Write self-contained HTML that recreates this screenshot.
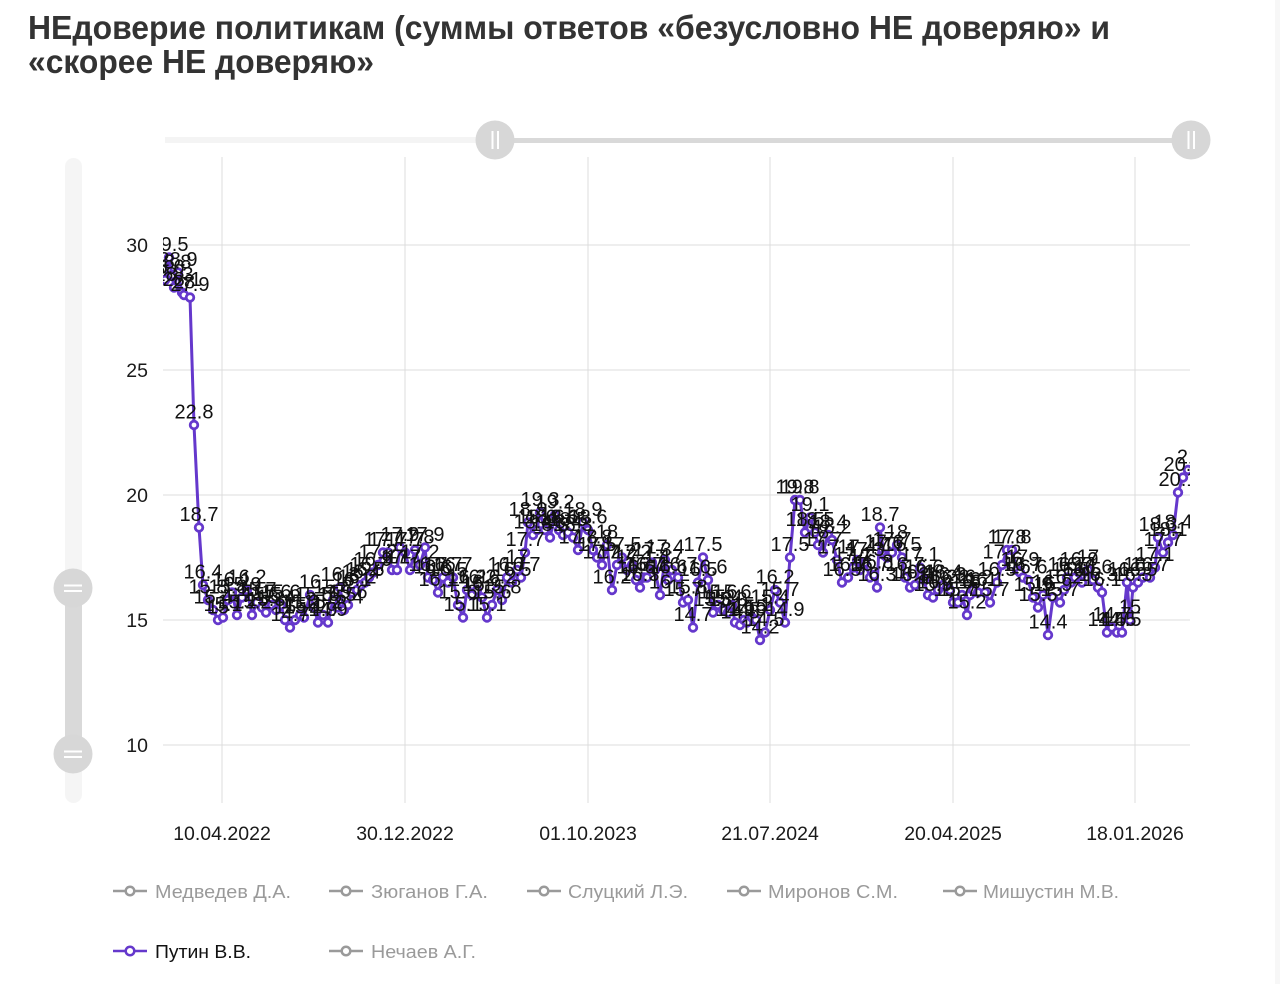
<!DOCTYPE html>
<html><head><meta charset="utf-8"><style>
html,body{margin:0;padding:0;background:#fff;}
svg{display:block;}
.dl{font-family:"Liberation Sans","DejaVu Sans",sans-serif;font-size:20px;fill:#111;text-anchor:middle;}
.ax{font-family:"Liberation Sans","DejaVu Sans",sans-serif;font-size:19.5px;fill:#1a1a1a;}
.lg{font-family:"Liberation Sans","DejaVu Sans",sans-serif;font-size:18.5px;fill:#9a9a9a;}
</style></head><body>
<svg width="1280" height="984" viewBox="0 0 1280 984" xmlns="http://www.w3.org/2000/svg">
<defs>
<marker id="m" markerWidth="14" markerHeight="14" refX="7" refY="7" markerUnits="userSpaceOnUse"><circle cx="7" cy="7" r="3.8" fill="#fff" stroke="#6538cc" stroke-width="2.8"/></marker>
<clipPath id="pc"><rect x="163" y="150" width="1027" height="660"/></clipPath>
</defs>
<rect x="1275" y="0" width="5" height="984" fill="#f7f7f7"/>
<!-- title -->
<text x="28" y="39" font-family="Liberation Sans, DejaVu Sans, sans-serif" font-weight="bold" font-size="33" fill="#333" textLength="1082" lengthAdjust="spacingAndGlyphs">НЕдоверие политикам (суммы ответов «безусловно НЕ доверяю» и</text>
<text x="28" y="73" font-family="Liberation Sans, DejaVu Sans, sans-serif" font-weight="bold" font-size="33" fill="#333" textLength="346" lengthAdjust="spacingAndGlyphs">«скорее НЕ доверяю»</text>
<!-- top slider -->
<rect x="165" y="137" width="330" height="6" fill="#f4f4f4"/>
<rect x="496" y="138" width="695" height="5" fill="#d9d9d9"/>
<circle cx="495" cy="140" r="19.5" fill="#d7d7d7"/>
<rect x="491.5" y="131" width="2" height="18" fill="#fff"/><rect x="497" y="131" width="2" height="18" fill="#fff"/>
<circle cx="1191" cy="140" r="19.5" fill="#d7d7d7"/>
<rect x="1187.5" y="131" width="2" height="18" fill="#fff"/><rect x="1193" y="131" width="2" height="18" fill="#fff"/>
<!-- left slider -->
<rect x="65" y="158" width="17" height="645" rx="8.5" fill="#f5f5f5"/>
<rect x="65" y="588" width="17" height="166" fill="#d9d9d9"/>
<circle cx="73" cy="588" r="19.5" fill="#d7d7d7"/>
<rect x="64" y="584.5" width="18" height="2" fill="#fff"/><rect x="64" y="590" width="18" height="2" fill="#fff"/>
<circle cx="73" cy="754" r="19.5" fill="#d7d7d7"/>
<rect x="64" y="750.5" width="18" height="2" fill="#fff"/><rect x="64" y="756" width="18" height="2" fill="#fff"/>
<!-- grid -->
<g stroke="#dcdcdc" stroke-width="1">
<line x1="163" y1="245" x2="1190" y2="245"/>
<line x1="163" y1="370" x2="1190" y2="370"/>
<line x1="163" y1="495" x2="1190" y2="495"/>
<line x1="163" y1="620" x2="1190" y2="620"/>
<line x1="163" y1="745" x2="1190" y2="745"/>
<line x1="222" y1="157" x2="222" y2="803"/>
<line x1="405" y1="157" x2="405" y2="803"/>
<line x1="588" y1="157" x2="588" y2="803"/>
<line x1="770" y1="157" x2="770" y2="803"/>
<line x1="953" y1="157" x2="953" y2="803"/>
<line x1="1135" y1="157" x2="1135" y2="803"/>
</g>
<!-- y labels -->
<g class="ax" text-anchor="end">
<text x="148" y="252">30</text>
<text x="148" y="377">25</text>
<text x="148" y="502">20</text>
<text x="148" y="627">15</text>
<text x="148" y="752">10</text>
</g>
<!-- x labels -->
<g class="ax" text-anchor="middle">
<text x="222" y="840">10.04.2022</text>
<text x="405" y="840">30.12.2022</text>
<text x="588" y="840">01.10.2023</text>
<text x="770" y="840">21.07.2024</text>
<text x="953" y="840">20.04.2025</text>
<text x="1135" y="840">18.01.2026</text>
</g>
<g clip-path="url(#pc)">
<polyline fill="none" stroke="#6538cc" stroke-width="3" stroke-linejoin="round" marker-start="url(#m)" marker-mid="url(#m)" marker-end="url(#m)" points="165,280 169,257.5 172,275 174,287.5 178,272.5 182,292.5 184,295 190,297.5 194,425 199,527.5 203,585 208,600 213,610 218,620 223,617.5 228,600 232,592.5 237,615 242,597.5 247,590 252,615 257,602.5 262,607.5 266,612.5 272,605 276,610 281,605 285,620 290,627.5 295,620 300,615 304,617.5 310,595 314,607.5 318,622.5 323,615 328,622.5 333,600 337,607.5 340,587.5 344,610 348,605 352,592.5 357,590 361,585 365,582.5 369,577.5 373,572.5 378,565 383,552.5 388,552.5 392,570 397,570 400,547.5 405,552.5 410,570 415,550 420,565 425,547.5 428,577.5 433,580 438,592.5 443,577.5 448,582.5 453,577.5 458,605 463,617.5 467,590 472,595 477,590 482,597.5 487,617.5 492,605 497,590 502,600 507,577.5 512,582.5 517,570 521,577.5 525,552.5 528,522.5 533,535 537,530 540,512.5 545,530 550,537.5 555,515 559,530 563,535 568,532.5 573,537.5 578,550 583,522.5 588,530 593,550 597,557.5 602,565 607,545 612,590 617,565 622,557.5 627,570 632,565 636,580 640,587.5 644,577.5 647,577.5 652,562.5 655,570 660,595 665,560 668,580 672,570 678,577.5 683,602.5 688,600 693,627.5 698,582.5 703,557.5 708,580 713,612.5 718,605 723,610 728,612.5 732,605 735,622.5 740,625 744,620 747,622.5 752,617.5 756,620 760,640 765,632.5 770,610 775,590 780,602.5 785,622.5 790,557.5 795,500 800,500 805,532.5 810,517.5 815,532.5 818,545 823,552.5 828,535 832,540 837,560 842,582.5 848,577.5 853,567.5 857,560 860,570 865,562.5 870,577.5 874,575 877,587.5 880,527.5 884,555 887,557.5 892,552.5 897,545 902,557.5 905,577.5 910,587.5 915,585 920,567.5 924,580 928,595 933,597.5 938,590 943,585 947,587.5 950,590 953,602.5 958,602.5 962,595 967,615 970,595 973,590 978,592.5 985,592.5 990,602.5 997,582.5 1002,565 1007,550 1012,550 1017,570 1020,572.5 1023,577.5 1028,580 1033,597.5 1038,607.5 1043,595 1048,635 1053,597.5 1060,602.5 1064,590 1067,577.5 1071,582.5 1075,577.5 1079,572.5 1082,582.5 1088,570 1093,580 1098,587.5 1102,592.5 1107,632.5 1112,627.5 1117,632.5 1122,632.5 1127,582.5 1130,620 1133,587.5 1138,582.5 1143,577.5 1150,577.5 1155,567.5 1158,537.5 1163,552.5 1168,542.5 1173,535 1178,492.5 1183,477.5 1188,470"/>
<g class="dl">
<text x="165" y="273.5">28.6</text><text x="169" y="251">29.5</text><text x="172" y="268.5">28.8</text><text x="174" y="281">28.3</text><text x="178" y="266">28.9</text><text x="182" y="286">28.1</text><text x="184" y="288.5">28</text><text x="190" y="291">27.9</text><text x="194" y="418.5">22.8</text><text x="199" y="521">18.7</text>
<text x="203" y="578.5">16.4</text><text x="208" y="593.5">15.8</text><text x="213" y="603.5">15.4</text><text x="218" y="613.5">15</text><text x="223" y="611">15.1</text><text x="228" y="593.5">15.8</text><text x="232" y="586">16.1</text><text x="237" y="608.5">15.2</text><text x="242" y="591">15.9</text><text x="247" y="583.5">16.2</text>
<text x="252" y="608.5">15.2</text><text x="257" y="596">15.7</text><text x="262" y="601">15.5</text><text x="266" y="606">15.3</text><text x="272" y="598.5">15.6</text><text x="276" y="603.5">15.4</text><text x="281" y="598.5">15.6</text><text x="285" y="613.5">15</text><text x="290" y="621">14.7</text><text x="295" y="613.5">15</text>
<text x="300" y="608.5">15.2</text><text x="304" y="611">15.1</text><text x="310" y="588.5">16</text><text x="314" y="601">15.5</text><text x="318" y="616">14.9</text><text x="323" y="608.5">15.2</text><text x="328" y="616">14.9</text><text x="333" y="593.5">15.8</text><text x="337" y="601">15.5</text><text x="340" y="581">16.3</text>
<text x="344" y="603.5">15.4</text><text x="348" y="598.5">15.6</text><text x="352" y="586">16.1</text><text x="357" y="583.5">16.2</text><text x="361" y="578.5">16.4</text><text x="365" y="576">16.5</text><text x="369" y="571">16.7</text><text x="373" y="566">16.9</text><text x="378" y="558.5">17.2</text><text x="383" y="546">17.7</text>
<text x="388" y="546">17.7</text><text x="392" y="563.5">17</text><text x="397" y="563.5">17</text><text x="400" y="541">17.9</text><text x="405" y="546">17.7</text><text x="410" y="563.5">17</text><text x="415" y="543.5">17.8</text><text x="420" y="558.5">17.2</text><text x="425" y="541">17.9</text><text x="428" y="571">16.7</text>
<text x="433" y="573.5">16.6</text><text x="438" y="586">16.1</text><text x="443" y="571">16.7</text><text x="448" y="576">16.5</text><text x="453" y="571">16.7</text><text x="458" y="598.5">15.6</text><text x="463" y="611">15.1</text><text x="467" y="583.5">16.2</text><text x="472" y="588.5">16</text><text x="477" y="583.5">16.2</text>
<text x="482" y="591">15.9</text><text x="487" y="611">15.1</text><text x="492" y="598.5">15.6</text><text x="497" y="583.5">16.2</text><text x="502" y="593.5">15.8</text><text x="507" y="571">16.7</text><text x="512" y="576">16.5</text><text x="517" y="563.5">17</text><text x="521" y="571">16.7</text><text x="525" y="546">17.7</text>
<text x="528" y="516">18.9</text><text x="533" y="528.5">18.4</text><text x="537" y="523.5">18.6</text><text x="540" y="506">19.3</text><text x="545" y="523.5">18.6</text><text x="550" y="531">18.3</text><text x="555" y="508.5">19.2</text><text x="559" y="523.5">18.6</text><text x="563" y="528.5">18.4</text><text x="568" y="526">18.5</text>
<text x="573" y="531">18.3</text><text x="578" y="543.5">17.8</text><text x="583" y="516">18.9</text><text x="588" y="523.5">18.6</text><text x="593" y="543.5">17.8</text><text x="597" y="551">17.5</text><text x="602" y="558.5">17.2</text><text x="607" y="538.5">18</text><text x="612" y="583.5">16.2</text><text x="617" y="558.5">17.2</text>
<text x="622" y="551">17.5</text><text x="627" y="563.5">17</text><text x="632" y="558.5">17.2</text><text x="636" y="573.5">16.6</text><text x="640" y="581">16.3</text><text x="644" y="571">16.7</text><text x="647" y="571">16.7</text><text x="652" y="556">17.3</text><text x="655" y="563.5">17</text><text x="660" y="588.5">16</text>
<text x="665" y="553.5">17.4</text><text x="668" y="573.5">16.6</text><text x="672" y="563.5">17</text><text x="678" y="571">16.7</text><text x="683" y="596">15.7</text><text x="688" y="593.5">15.8</text><text x="693" y="621">14.7</text><text x="698" y="576">16.5</text><text x="703" y="551">17.5</text><text x="708" y="573.5">16.6</text>
<text x="713" y="606">15.3</text><text x="718" y="598.5">15.6</text><text x="723" y="603.5">15.4</text><text x="728" y="606">15.3</text><text x="732" y="598.5">15.6</text><text x="735" y="616">14.9</text><text x="740" y="618.5">14.8</text><text x="744" y="613.5">15</text><text x="747" y="616">14.9</text><text x="752" y="611">15.1</text>
<text x="756" y="613.5">15</text><text x="760" y="633.5">14.2</text><text x="765" y="626">14.5</text><text x="770" y="603.5">15.4</text><text x="775" y="583.5">16.2</text><text x="780" y="596">15.7</text><text x="785" y="616">14.9</text><text x="790" y="551">17.5</text><text x="795" y="493.5">19.8</text><text x="800" y="493.5">19.8</text>
<text x="805" y="526">18.5</text><text x="810" y="511">19.1</text><text x="815" y="526">18.5</text><text x="818" y="538.5">18</text><text x="823" y="546">17.7</text><text x="828" y="528.5">18.4</text><text x="832" y="533.5">18.2</text><text x="837" y="553.5">17.4</text><text x="842" y="576">16.5</text><text x="848" y="571">16.7</text>
<text x="853" y="561">17.1</text><text x="857" y="553.5">17.4</text><text x="860" y="563.5">17</text><text x="865" y="556">17.3</text><text x="870" y="571">16.7</text><text x="874" y="568.5">16.8</text><text x="877" y="581">16.3</text><text x="880" y="521">18.7</text><text x="884" y="548.5">17.6</text><text x="887" y="551">17.5</text>
<text x="892" y="546">17.7</text><text x="897" y="538.5">18</text><text x="902" y="551">17.5</text><text x="905" y="571">16.7</text><text x="910" y="581">16.3</text><text x="915" y="578.5">16.4</text><text x="920" y="561">17.1</text><text x="924" y="573.5">16.6</text><text x="928" y="588.5">16</text><text x="933" y="591">15.9</text>
<text x="938" y="583.5">16.2</text><text x="943" y="578.5">16.4</text><text x="947" y="581">16.3</text><text x="950" y="583.5">16.2</text><text x="953" y="596">15.7</text><text x="958" y="596">15.7</text><text x="962" y="588.5">16</text><text x="967" y="608.5">15.2</text><text x="970" y="588.5">16</text><text x="973" y="583.5">16.2</text>
<text x="978" y="586">16.1</text><text x="985" y="586">16.1</text><text x="990" y="596">15.7</text><text x="997" y="576">16.5</text><text x="1002" y="558.5">17.2</text><text x="1007" y="543.5">17.8</text><text x="1012" y="543.5">17.8</text><text x="1017" y="563.5">17</text><text x="1020" y="566">16.9</text><text x="1023" y="571">16.7</text>
<text x="1028" y="573.5">16.6</text><text x="1033" y="591">15.9</text><text x="1038" y="601">15.5</text><text x="1043" y="588.5">16</text><text x="1048" y="628.5">14.4</text><text x="1053" y="591">15.9</text><text x="1060" y="596">15.7</text><text x="1064" y="583.5">16.2</text><text x="1067" y="571">16.7</text><text x="1071" y="576">16.5</text>
<text x="1075" y="571">16.7</text><text x="1079" y="566">16.9</text><text x="1082" y="576">16.5</text><text x="1088" y="563.5">17</text><text x="1093" y="573.5">16.6</text><text x="1098" y="581">16.3</text><text x="1102" y="586">16.1</text><text x="1107" y="626">14.5</text><text x="1112" y="621">14.7</text><text x="1117" y="626">14.5</text>
<text x="1122" y="626">14.5</text><text x="1127" y="576">16.5</text><text x="1130" y="613.5">15</text><text x="1133" y="581">16.3</text><text x="1138" y="576">16.5</text><text x="1143" y="571">16.7</text><text x="1150" y="571">16.7</text><text x="1155" y="561">17.1</text><text x="1158" y="531">18.3</text><text x="1163" y="546">17.7</text>
<text x="1168" y="536">18.1</text><text x="1173" y="528.5">18.4</text><text x="1178" y="486">20.1</text><text x="1183" y="471">20.7</text><text x="1188" y="463.5">21</text>
</g>
</g>
<!-- legend -->
<g stroke="#9a9a9a" stroke-width="2.5" fill="#fff">
<line x1="113" y1="891" x2="147" y2="891"/><circle cx="130" cy="891" r="4.3"/>
<line x1="329" y1="891" x2="363" y2="891"/><circle cx="346" cy="891" r="4.3"/>
<line x1="527" y1="891" x2="561" y2="891"/><circle cx="544" cy="891" r="4.3"/>
<line x1="727" y1="891" x2="761" y2="891"/><circle cx="744" cy="891" r="4.3"/>
<line x1="943" y1="891" x2="977" y2="891"/><circle cx="960" cy="891" r="4.3"/>
<line x1="329" y1="951" x2="363" y2="951"/><circle cx="346" cy="951" r="4.3"/>
</g>
<g stroke="#6538cc" stroke-width="2.5" fill="#fff">
<line x1="113" y1="951" x2="147" y2="951"/><circle cx="130" cy="951" r="4.3"/>
</g>
<g class="lg">
<text x="155" y="898" textLength="136" lengthAdjust="spacingAndGlyphs">Медведев Д.А.</text>
<text x="371" y="898" textLength="117" lengthAdjust="spacingAndGlyphs">Зюганов Г.А.</text>
<text x="568" y="898" textLength="120" lengthAdjust="spacingAndGlyphs">Слуцкий Л.Э.</text>
<text x="768" y="898" textLength="130" lengthAdjust="spacingAndGlyphs">Миронов С.М.</text>
<text x="983" y="898" textLength="136" lengthAdjust="spacingAndGlyphs">Мишустин М.В.</text>
<text x="155" y="958" textLength="96" lengthAdjust="spacingAndGlyphs" style="fill:#111">Путин В.В.</text>
<text x="371" y="958" textLength="105" lengthAdjust="spacingAndGlyphs">Нечаев А.Г.</text>
</g>
</svg>
</body></html>
